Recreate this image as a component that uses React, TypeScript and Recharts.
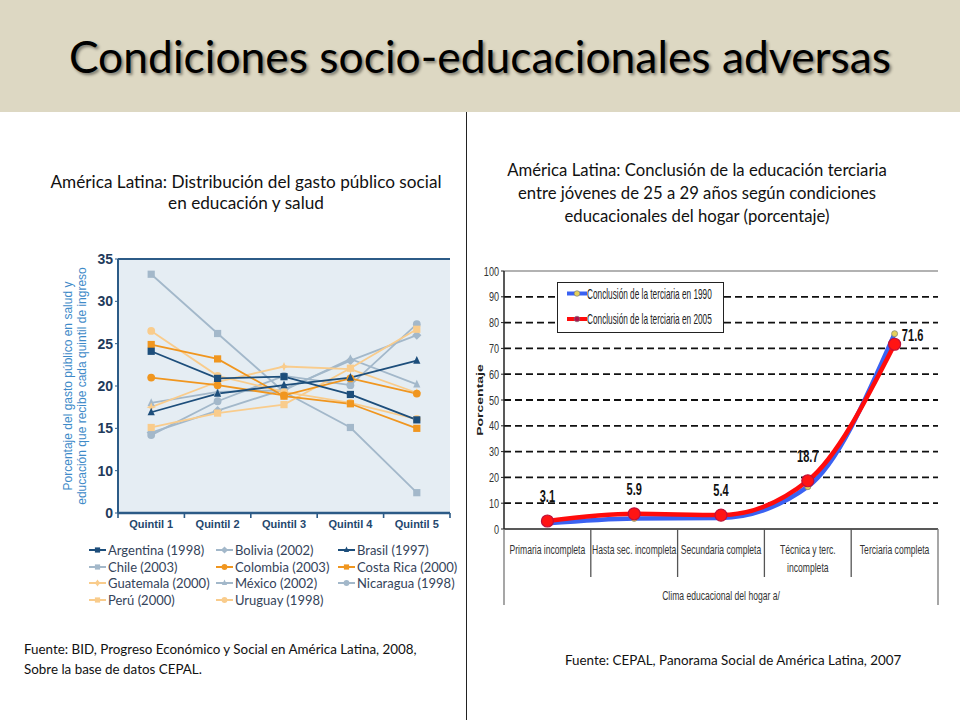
import React from 'react';
import { LineChart, Line, XAxis, YAxis, CartesianGrid, ReferenceLine, LabelList } from 'recharts';

// ---- left chart: gasto público social por quintil ----
const quintiles = ['Quintil 1', 'Quintil 2', 'Quintil 3', 'Quintil 4', 'Quintil 5'];
const leftTickValues = [5, 10, 15, 20, 25, 30, 35];
const leftTickLabels = ['0', '10', '15', '20', '25', '30', '35'];

const argentina = [24.1, 20.9, 21.1, 19.0, 16.0];
const bolivia = [14.5, 17.1, 19.6, 23.0, 26.0];
const brasil = [16.9, 19.1, 20.1, 21.0, 23.0];
const chile = [33.2, 26.2, 19.3, 15.1, 7.4];
const colombia = [21.0, 20.1, 18.9, 20.9, 19.1];
const costaRica = [24.9, 23.2, 18.8, 17.9, 15.0];
const guatemala = [17.5, 20.5, 22.3, 22.0, 19.2];
const mexico = [18.0, 19.3, 19.5, 23.2, 20.2];
const nicaragua = [14.2, 18.2, 21.2, 20.1, 27.3];
const peru = [15.1, 16.8, 17.8, 22.1, 26.7];
const uruguay = [26.5, 21.2, 19.3, 18.0, 16.1];

// ---- right chart: conclusión de la educación terciaria ----
const climaLabels = ['Primaria incompleta', 'Hasta sec. incompleta', 'Secundaria completa', 'Técnica y terc.\nincompleta', 'Terciaria completa'];
const terciaria1990 = [2.2, 4.1, 4.3, 16.4, 75.7];
const terciaria2005 = [3.1, 5.9, 5.4, 18.7, 71.6];
const rightTicks = [0, 10, 20, 30, 40, 50, 60, 70, 80, 90, 100];
const gridValues = [10, 20, 30, 40, 50, 60, 70, 80, 90];

const NAVY = '#1D4E7B';
const GREYBLUE = '#A3B8CA';
const ORANGE = '#F0961F';
const LIGHTORANGE = '#F9CC8C';
const FRAME = '#2C5B87';

type Shape = 'square' | 'circle' | 'diamond' | 'triangle' | 'star';

const countries: { key: string; name: string; values: number[]; color: string; shape: Shape }[] = [
  { key: 'arg', name: 'Argentina (1998)', values: argentina, color: NAVY, shape: 'square' },
  { key: 'bol', name: 'Bolivia (2002)', values: bolivia, color: GREYBLUE, shape: 'diamond' },
  { key: 'bra', name: 'Brasil (1997)', values: brasil, color: NAVY, shape: 'triangle' },
  { key: 'chi', name: 'Chile (2003)', values: chile, color: GREYBLUE, shape: 'square' },
  { key: 'col', name: 'Colombia (2003)', values: colombia, color: ORANGE, shape: 'circle' },
  { key: 'cri', name: 'Costa Rica (2000)', values: costaRica, color: ORANGE, shape: 'square' },
  { key: 'gua', name: 'Guatemala (2000)', values: guatemala, color: LIGHTORANGE, shape: 'star' },
  { key: 'mex', name: 'México (2002)', values: mexico, color: GREYBLUE, shape: 'triangle' },
  { key: 'nic', name: 'Nicaragua (1998)', values: nicaragua, color: GREYBLUE, shape: 'circle' },
  { key: 'per', name: 'Perú (2000)', values: peru, color: LIGHTORANGE, shape: 'square' },
  { key: 'uru', name: 'Uruguay (1998)', values: uruguay, color: LIGHTORANGE, shape: 'circle' },
];

// light lines underneath, dark ones on top
const drawOrder = ['chi', 'nic', 'bol', 'mex', 'gua', 'uru', 'per', 'col', 'cri', 'bra', 'arg'];

const leftRows = quintiles.map((q, i) => {
  const row: any = { pos: i + 1, name: q };
  countries.forEach((c) => (row[c.key] = c.values[i]));
  return row;
});

const rightRows = climaLabels.map((c, i) => ({ pos: i + 1, name: c, v1990: terciaria1990[i], v2005: terciaria2005[i] }));

const bandTicks = (n: number) => {
  const t: number[] = [];
  for (let i = 0; i <= 2 * n; i++) t.push(0.5 + i / 2);
  return t;
};

function Marker({ cx, cy, shape, color, s = 3.6 }: { cx: number; cy: number; shape: Shape; color: string; s?: number }) {
  if (shape === 'square') return <rect x={cx - s} y={cy - s} width={s * 2} height={s * 2} fill={color} />;
  if (shape === 'circle') return <circle cx={cx} cy={cy} r={s + 0.3} fill={color} />;
  if (shape === 'diamond')
    return <polygon points={`${cx},${cy - s - 1} ${cx + s + 1},${cy} ${cx},${cy + s + 1} ${cx - s - 1},${cy}`} fill={color} />;
  if (shape === 'triangle')
    return <polygon points={`${cx},${cy - s - 1} ${cx + s},${cy + s - 0.5} ${cx - s},${cy + s - 0.5}`} fill={color} />;
  const a = s + 1, b = 1.4;
  return (
    <polygon
      points={`${cx},${cy - a} ${cx + b},${cy - b} ${cx + a},${cy} ${cx + b},${cy + b} ${cx},${cy + a} ${cx - b},${cy + b} ${cx - a},${cy} ${cx - b},${cy - b}`}
      fill={color}
    />
  );
}

const LeftXTick = (props: any) => {
  const { x, y, payload } = props;
  const v = payload.value;
  if (Number.isInteger(v)) {
    return (
      <text x={x} y={y + 15} textAnchor="middle" fontFamily="'Liberation Sans', Arial, sans-serif" fontSize={11} fontWeight="bold" fill="#24476D">
        {quintiles[v - 1]}
      </text>
    );
  }
  return <line x1={x} x2={x} y1={y} y2={y + 5} stroke={FRAME} strokeWidth={1.6} />;
};

const RightXTick = (props: any) => {
  const { x, y, payload } = props;
  const v = payload.value;
  if (Number.isInteger(v)) {
    const lines = climaLabels[v - 1].split('\n');
    return (
      <g transform={`translate(${x},${y}) scale(0.66,1)`}>
        {lines.map((l, i) => (
          <text key={i} x={0} y={25 + i * 18} textAnchor="middle" fontFamily="'Liberation Sans', Arial, sans-serif" fontSize={13} fill="#333">
            {l}
          </text>
        ))}
      </g>
    );
  }
  const outer = v === 0.5 || v === climaLabels.length + 0.5;
  return <line x1={x} x2={x} y1={y} y2={y + (outer ? 76 : 48)} stroke={outer ? '#777' : '#555'} strokeWidth={1.3} />;
};

const RightYTick = (props: any) => {
  const { x, y, payload } = props;
  return (
    <g transform={`translate(${x},${y}) scale(0.7,1)`}>
      <text x={0} y={4.5} textAnchor="end" fontFamily="'Liberation Sans', Arial, sans-serif" fontSize={13} fill="#333">
        {payload.value}
      </text>
    </g>
  );
};

const renderValueLabel = (props: any) => {
  const { x, y, value, index } = props;
  const last = index === terciaria2005.length - 1;
  const tx = last ? x + 18 : x;
  const ty = last ? y - 3 : y - 19;
  return (
    <g transform={`translate(${tx},${ty}) scale(0.69,1)`}>
      <text x={0} y={0} textAnchor="middle" fontFamily="'Liberation Sans', Arial, sans-serif" fontSize={16} fontWeight="bold" fill="#111">
        {value}
      </text>
    </g>
  );
};

const Dot1990 = (props: any) => {
  const { cx, cy, index } = props;
  return <circle key={'a' + index} cx={cx} cy={cy} r={3} fill="#E4D05A" stroke="#8A8A70" strokeWidth={0.8} />;
};
const Dot2005 = (props: any) => {
  const { cx, cy, index } = props;
  return <circle key={'b' + index} cx={cx} cy={cy} r={6} fill="#FF1414" stroke="#C0103A" strokeWidth={1.2} />;
};

const slideFont = "Lato, 'Open Sans', sans-serif";

export default function App() {
  const legendCols = [89, 216, 338];
  const legendRows = [550, 567, 583, 600];

  return (
    <div style={{ position: 'absolute', left: 0, top: 0, width: 960, height: 720, background: '#fff', overflow: 'hidden', fontFamily: slideFont }}>
      {/* header band */}
      <div style={{ position: 'absolute', left: 0, top: 0, width: 960, height: 112, background: '#DDD8C3' }} />
      <div
        style={{
          position: 'absolute', left: 0, top: 27, width: 960, textAlign: 'center', fontSize: 44.4, lineHeight: '58px',
          color: '#000', textShadow: '2px 2px 3px rgba(0,0,0,0.45)',
        }}
      >
        Condiciones socio-educacionales adversas
      </div>
      <div style={{ position: 'absolute', left: 466, top: 112, width: 1, height: 608, background: '#222' }} />

      {/* left titles */}
      <div style={{ position: 'absolute', left: 16, top: 171, width: 460, textAlign: 'center', fontSize: 17.2, lineHeight: '21px', color: '#111' }}>
        América Latina: Distribución del gasto público social
        <br />
        en educación y salud
      </div>
      <div style={{ position: 'absolute', left: 24, top: 639, fontSize: 13.4, lineHeight: '20px', color: '#111' }}>
        Fuente: BID, Progreso Económico y Social en América Latina, 2008,
        <br />
        Sobre la base de datos CEPAL.
      </div>

      {/* right titles */}
      <div style={{ position: 'absolute', left: 467, top: 159, width: 460, textAlign: 'center', fontSize: 16.7, lineHeight: '23px', color: '#111' }}>
        América Latina: Conclusión de la educación terciaria
        <br />
        entre jóvenes de 25 a 29 años según condiciones
        <br />
        educacionales del hogar (porcentaje)
      </div>
      <div style={{ position: 'absolute', left: 565, top: 650, fontSize: 13.4, lineHeight: '20px', color: '#111' }}>
        Fuente: CEPAL, Panorama Social de América Latina, 2007
      </div>

      {/* left chart */}
      <div style={{ position: 'absolute', left: 60, top: 240 }}>
        <LineChart width={400} height={300} data={leftRows} margin={{ top: 19, right: 10, bottom: 0, left: 0 }}>
          <CartesianGrid fill="#E5EDF3" horizontal={false} vertical={false} />
          <XAxis
            dataKey="pos"
            type="number"
            domain={[0.5, 5.5]}
            ticks={bandTicks(quintiles.length)}
            interval={0}
            tickLine={false}
            tickSize={0}
            tickMargin={0}
            height={27}
            axisLine={{ stroke: FRAME, strokeWidth: 2.5 }}
            tick={<LeftXTick />}
          />
          <YAxis
            domain={[5, 35]}
            ticks={leftTickValues}
            interval={0}
            width={58}
            tickSize={3}
            tickMargin={2}
            axisLine={{ stroke: FRAME, strokeWidth: 2 }}
            tickLine={{ stroke: FRAME }}
            tickFormatter={(v: number, i: number) => leftTickLabels[i]}
            tick={{ fill: '#1F3B5C', fontSize: 14, fontWeight: 'bold', fontFamily: "'Liberation Sans', Arial, sans-serif" }}
          />
          <YAxis yAxisId="r" orientation="right" domain={[5, 35]} width={0} tick={false} tickLine={false} axisLine={{ stroke: FRAME, strokeWidth: 2 }} />
          <ReferenceLine y={35} stroke={FRAME} strokeWidth={2} />
          {drawOrder.map((k) => {
            const c = countries.find((cc) => cc.key === k)!;
            return (
              <Line
                key={k}
                dataKey={k}
                name={c.name}
                stroke={c.color}
                strokeWidth={1.8}
                isAnimationActive={false}
                dot={(p: any) => (
                  <g key={k + p.index}>
                    <Marker cx={p.cx} cy={p.cy} shape={c.shape} color={c.color} />
                  </g>
                )}
                activeDot={false}
              />
            );
          })}
        </LineChart>
      </div>

      {/* left y label */}
      <svg style={{ position: 'absolute', left: 60, top: 250 }} width={40} height={280}>
        <g transform="translate(12,136) rotate(-90)" fontFamily="'Liberation Sans', Arial, sans-serif" fontSize={12} fill="#3E8AC8">
          <text x={0} y={0} textAnchor="middle">Porcentaje del gasto público en salud y</text>
          <text x={0} y={13.5} textAnchor="middle">educación que recibe cada quintil de ingreso</text>
        </g>
      </svg>

      {/* left legend */}
      <svg style={{ position: 'absolute', left: 0, top: 538 }} width={466} height={72}>
        {countries.map((c, i) => {
          const cx = legendCols[i % 3];
          const cy = legendRows[Math.floor(i / 3)] - 538;
          return (
            <g key={c.key}>
              <line x1={cx} x2={cx + 17} y1={cy} y2={cy} stroke={c.color} strokeWidth={2} />
              <Marker cx={cx + 8.5} cy={cy} shape={c.shape} color={c.color} s={2.6} />
              <text x={cx + 19} y={cy + 4.5} fontFamily={slideFont} fontSize={13} fill="#34435A">
                {c.name}
              </text>
            </g>
          );
        })}
      </svg>

      {/* right chart */}
      <div style={{ position: 'absolute', left: 470, top: 255 }}>
        <LineChart width={480} height={360} data={rightRows} margin={{ top: 16, right: 12, bottom: 0, left: 0 }}>
          <XAxis
            dataKey="pos"
            type="number"
            domain={[0.5, 5.5]}
            ticks={bandTicks(climaLabels.length)}
            interval={0}
            tickLine={false}
            tickSize={0}
            tickMargin={0}
            height={86}
            axisLine={{ stroke: '#222', strokeWidth: 1.5 }}
            tick={<RightXTick />}
          />
          <YAxis
            domain={[0, 100]}
            ticks={rightTicks}
            interval={0}
            width={34}
            tickSize={3}
            tickMargin={2}
            axisLine={{ stroke: '#222', strokeWidth: 1.5 }}
            tickLine={{ stroke: '#222' }}
            tick={<RightYTick />}
          />
          <YAxis yAxisId="r" orientation="right" domain={[0, 100]} width={0} tick={false} tickLine={false} axisLine={{ stroke: '#888', strokeWidth: 1.3 }} />
          {gridValues.map((g) => (
            <ReferenceLine key={g} y={g} stroke="#111" strokeWidth={1.8} strokeDasharray="7 4" />
          ))}
          <ReferenceLine y={100} stroke="#999" strokeWidth={1.3} />
          <Line type="monotone" dataKey="v1990" stroke="#3A62F2" strokeWidth={4.5} dot={<Dot1990 />} activeDot={false} isAnimationActive={false} />
          <Line type="monotone" dataKey="v2005" stroke="#FF0C0C" strokeWidth={4.5} dot={<Dot2005 />} activeDot={false} isAnimationActive={false}>
            <LabelList dataKey="v2005" content={renderValueLabel} />
          </Line>
        </LineChart>
      </div>

      {/* right y label */}
      <svg style={{ position: 'absolute', left: 470, top: 340 }} width={20} height={120}>
        <g transform="translate(13,60) scale(0.67,1) rotate(-90)">
          <text x={0} y={0} textAnchor="middle" fontFamily="'Liberation Sans', Arial, sans-serif" fontSize={14} fontWeight="bold" fill="#222">
            Porcentaje
          </text>
        </g>
      </svg>

      {/* right x title */}
      <svg style={{ position: 'absolute', left: 504, top: 584 }} width={434} height={22}>
        <g transform="translate(217,16) scale(0.66,1)">
          <text x={0} y={0} textAnchor="middle" fontFamily="'Liberation Sans', Arial, sans-serif" fontSize={13} fill="#333">
            Clima educacional del hogar a/
          </text>
        </g>
      </svg>

      {/* right legend box */}
      <svg style={{ position: 'absolute', left: 557, top: 282 }} width={167} height={51}>
        <rect x={0.5} y={0.5} width={166} height={50} fill="#fff" stroke="#222" strokeWidth={1} />
        {[
          { label: 'Conclusión de la terciaria en 1990', color: '#3A62F2', dot: '#E4D05A', y: 11.5 },
          { label: 'Conclusión de la terciaria en 2005', color: '#FF0C0C', dot: '#B0104A', y: 37 },
        ].map((e) => (
          <g key={e.label}>
            <line x1={10} x2={30} y1={e.y} y2={e.y} stroke={e.color} strokeWidth={4} />
            <circle cx={20} cy={e.y} r={2.8} fill={e.dot} stroke="#777" strokeWidth={0.6} />
            <g transform={`translate(30,${e.y + 5}) scale(0.59,1)`}>
              <text x={0} y={0} fontFamily="'Liberation Sans', Arial, sans-serif" fontSize={14} fill="#222">
                {e.label}
              </text>
            </g>
          </g>
        ))}
      </svg>
    </div>
  );
}
